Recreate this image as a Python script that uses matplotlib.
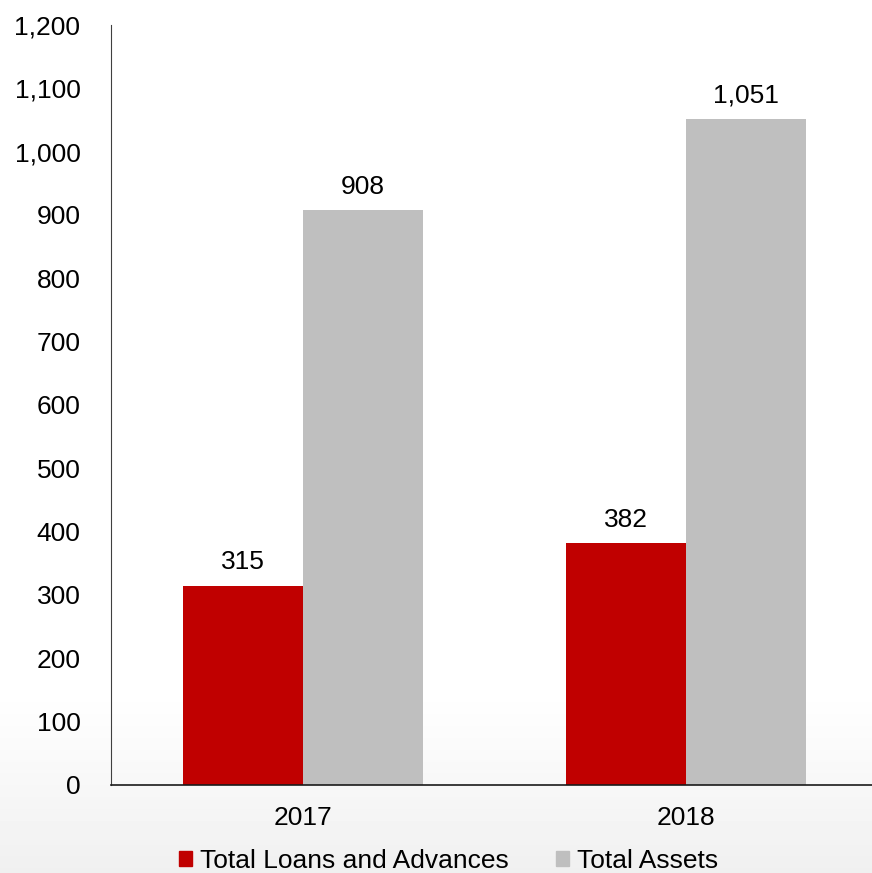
import numpy as np
import matplotlib
matplotlib.use('Agg')
import matplotlib.pyplot as plt
from matplotlib.patches import Patch

plt.rcParams['font.family'] = ['Liberation Sans', 'DejaVu Sans']

years = ['2017', '2018']
loans = [315, 382]
assets = [908, 1051]
series_names = ['Total Loans and Advances', 'Total Assets']
red = '#c00000'
grey = '#bfbfbf'

fig = plt.figure(figsize=(8.72, 8.73), dpi=100)

# soft grey fade at the foot of the figure
bg = fig.add_axes([0, 0, 1, 1], zorder=-10)
ramp = np.ones((873, 1))
ramp[690:, 0] = np.linspace(1.0, 0.94, 873 - 690)
bg.imshow(ramp, aspect='auto', cmap='gray', vmin=0, vmax=1,
          extent=[0, 1, 0, 1], origin='upper')
bg.axis('off')

ax = fig.add_axes([111 / 872, 88 / 873, 767 / 872, 760 / 873])
ax.patch.set_alpha(0)

x = np.arange(len(years))
w = 0.313
b1 = ax.bar(x - w / 2, loans, w, color=red, label=series_names[0])
b2 = ax.bar(x + w / 2, assets, w, color=grey, label=series_names[1])

for bars, vals in ((b1, loans), (b2, assets)):
    for bar, v in zip(bars, vals):
        ax.text(bar.get_x() + bar.get_width() / 2, v + 18, f'{v:,}',
                ha='center', va='bottom', fontsize=19)

ax.set_xlim(-0.5, 1.5)
ax.set_ylim(0, 1200)
ax.set_yticks(range(0, 1201, 100))
ax.set_yticklabels([f'{t:,}' for t in range(0, 1201, 100)])
ax.set_xticks(x)
ax.set_xticklabels(years)
ax.tick_params(axis='both', length=0, labelsize=19)
ax.tick_params(axis='y', pad=22)
ax.tick_params(axis='x', pad=15)

ax.spines['top'].set_visible(False)
ax.spines['right'].set_visible(False)
ax.spines['left'].set_color('#404040')
ax.spines['bottom'].set_color('#1a1a1a')
ax.spines['bottom'].set_linewidth(1.2)

handles = [Patch(color=red), Patch(color=grey)]
fig.legend(handles, series_names, loc='center', bbox_to_anchor=(0.5143, 12 / 873),
           ncol=2, frameon=False, fontsize=19, handlelength=0.5,
           handleheight=0.5, handletextpad=0.3, columnspacing=1.8)

fig.savefig('out.png', dpi=100)
